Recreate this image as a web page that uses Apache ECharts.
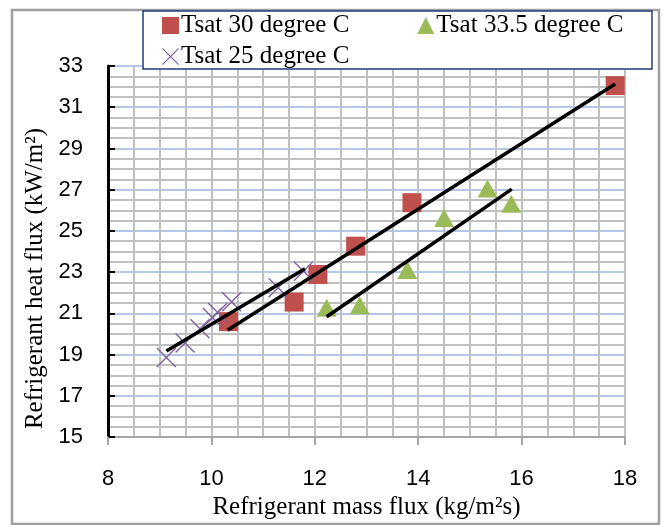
<!DOCTYPE html>
<html>
<head>
<meta charset="utf-8">
<script src="https://cdn.jsdelivr.net/npm/echarts@6/dist/echarts.min.js"></script>
<style>
  html, body { margin: 0; padding: 0; background: #fff; }
  #chart { width: 665px; height: 525px; }
</style>
</head>
<body>
<div id="chart"></div>
<script>
// Tsat 30 degree C (mass flux, heat flux)
const tsat30Mass = [10.33, 11.60, 12.06, 12.79, 13.88, 17.81]
const tsat30Heat = [20.60, 21.55, 22.89, 24.26, 26.37, 32.05]

// Tsat 33.5 degree C
const tsat33Mass = [12.23, 12.87, 13.79, 14.50, 15.34, 15.80]
const tsat33Heat = [21.28, 21.40, 23.10, 25.63, 27.06, 26.32]

// Tsat 25 degree C
const tsat25Mass = [9.13, 9.49, 9.78, 10.02, 10.12, 10.39, 11.29, 11.78]
const tsat25Heat = [18.86, 19.56, 20.25, 20.80, 21.04, 21.57, 22.24, 23.05]

// fitted trend lines (end points)
const trend30Mass = [10.31, 17.81]
const trend30Heat = [20.18, 32.13]
const trend33Mass = [12.23, 15.81]
const trend33Heat = [20.84, 27.03]
const trend25Mass = [9.13, 11.81]
const trend25Heat = [19.18, 23.16]

const xTicks = [8, 10, 12, 14, 16, 18]
const yTicks = [15, 17, 19, 21, 23, 25, 27, 29, 31, 33]

const names = ['Tsat 30 degree C', 'Tsat 33.5 degree C', 'Tsat 25 degree C']

const zip = (xs, ys) => xs.map((x, i) => [x, ys[i]])

const crossPath = 'path://M0,1L1,0L10,9L19,0L20,1L11,10L20,19L19,20L10,11L1,20L0,19L9,10Z'

const serif = '"Liberation Serif", "Times New Roman", serif'
const sans = '"Liberation Sans", Arial, sans-serif'

const chart = echarts.init(document.getElementById('chart'))

const trendSeries = (xs, ys) => ({
  type: 'line',
  data: zip(xs, ys),
  showSymbol: false,
  silent: true,
  z: 5,
  lineStyle: { color: '#000', width: 3.5 }
})

chart.setOption({
  animation: false,
  backgroundColor: '#fff',
  graphic: [
    {
      type: 'rect',
      shape: { x: 12, y: 10, width: 647, height: 514 },
      style: { fill: 'none', stroke: '#a0a0a0', lineWidth: 2.5 },
      z: 1
    },
    {
      type: 'rect',
      shape: { x: 143, y: 11, width: 509, height: 58 },
      style: { fill: '#fff', stroke: '#203c78', lineWidth: 1.5 },
      z: 8
    }
  ],
  legend: [
    {
      data: [
        { name: names[0], icon: 'rect' },
        { name: names[1], icon: 'triangle' }
      ],
      left: 162,
      top: 13,
      itemGap: 68,
      itemWidth: 17,
      itemHeight: 17,
      padding: 0,
      z: 10,
      selectedMode: false,
      textStyle: { fontFamily: serif, fontSize: 25, color: '#000', padding: [0, 0, 0, -3] }
    },
    {
      data: [{ name: names[2], icon: crossPath }],
      left: 162,
      top: 44,
      itemWidth: 17,
      itemHeight: 17,
      padding: 0,
      z: 10,
      selectedMode: false,
      textStyle: { fontFamily: serif, fontSize: 25, color: '#000', padding: [0, 0, 0, -3] }
    }
  ],
  grid: {
    left: 108,
    right: 40,
    top: 66,
    bottom: 87
  },
  xAxis: {
    type: 'value',
    min: xTicks[0],
    max: xTicks[xTicks.length - 1],
    interval: 2,
    name: 'Refrigerant mass flux (kg/m²s)',
    nameLocation: 'middle',
    nameGap: 55,
    nameTextStyle: { fontFamily: serif, fontSize: 25, color: '#000' },
    axisLine: { show: true, lineStyle: { color: '#a6a6a6', width: 2 } },
    axisTick: { show: true, length: 8, lineStyle: { color: '#a6a6a6', width: 2 } },
    minorTick: { show: false, splitNumber: 4 },
    axisLabel: { margin: 31, fontFamily: sans, fontSize: 22, color: '#000' },
    splitLine: { show: true, lineStyle: { color: '#c0c0c0', width: 2 } },
    minorSplitLine: { show: true, lineStyle: { color: '#c0c0c0', width: 2 } }
  },
  yAxis: {
    type: 'value',
    min: yTicks[0],
    max: yTicks[yTicks.length - 1],
    interval: 2,
    name: 'Refrigerant heat flux (kW/m²)',
    nameLocation: 'middle',
    nameGap: 42,
    nameTextStyle: { fontFamily: serif, fontSize: 25, color: '#000', padding: [0, 54, 0, 0] },
    axisLine: { show: true, lineStyle: { color: '#000', width: 3 } },
    axisTick: { show: true, inside: true, length: 7, lineStyle: { color: '#000', width: 2 } },
    minorTick: { show: false, splitNumber: 4 },
    axisLabel: { margin: 25, fontFamily: sans, fontSize: 22, color: '#000' },
    splitLine: { show: true, lineStyle: { color: '#b4c7e7', width: 2 } },
    minorSplitLine: { show: true, lineStyle: { color: '#c0c0c0', width: 2 } }
  },
  series: [
    {
      name: names[0],
      type: 'scatter',
      symbol: 'rect',
      symbolSize: 19,
      z: 3,
      itemStyle: { color: '#c0504d', opacity: 1 },
      data: zip(tsat30Mass, tsat30Heat)
    },
    {
      name: names[1],
      type: 'scatter',
      symbol: 'triangle',
      symbolSize: [20, 18],
      z: 3,
      itemStyle: { color: '#9bbb59', opacity: 1 },
      data: zip(tsat33Mass, tsat33Heat)
    },
    {
      name: names[2],
      type: 'scatter',
      symbol: crossPath,
      symbolSize: 20,
      z: 3,
      itemStyle: { color: '#8064a2', opacity: 1 },
      data: zip(tsat25Mass, tsat25Heat)
    },
    trendSeries(trend30Mass, trend30Heat),
    trendSeries(trend33Mass, trend33Heat),
    trendSeries(trend25Mass, trend25Heat)
  ]
})
</script>
</body>
</html>
